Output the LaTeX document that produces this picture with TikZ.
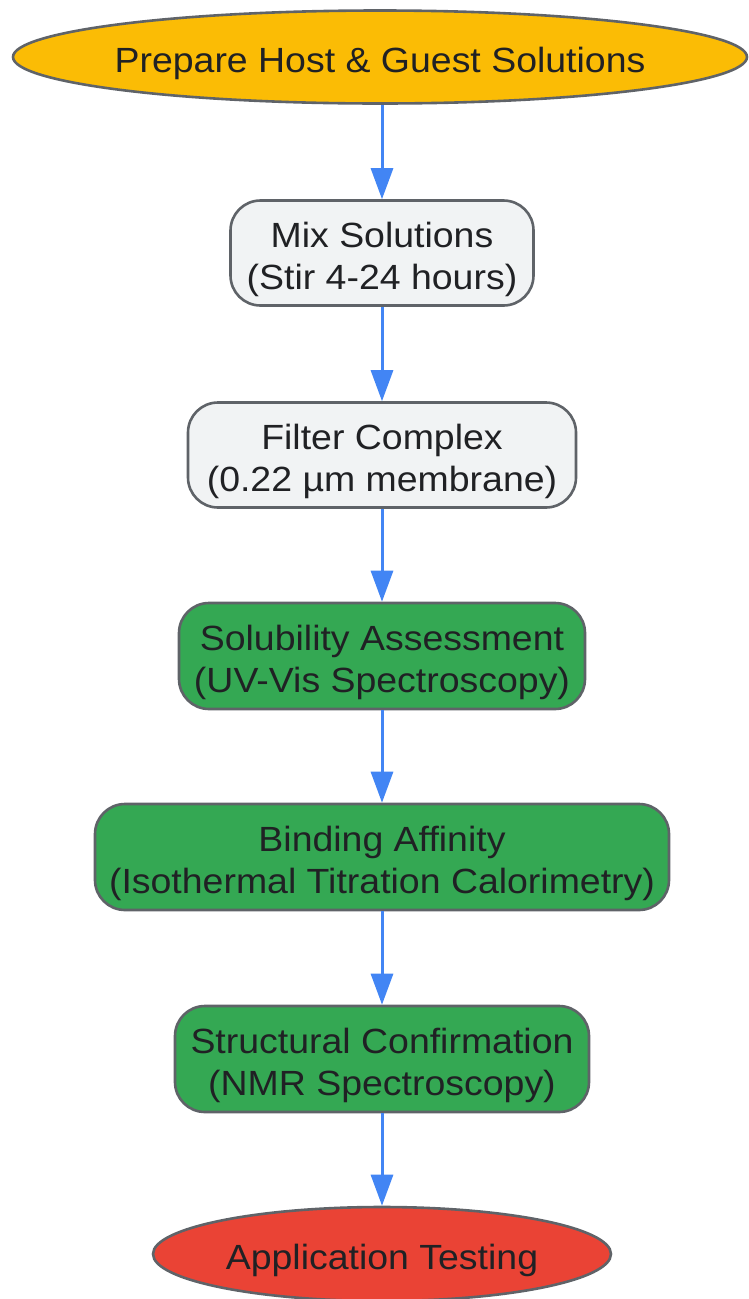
\documentclass[tikz,border=0pt]{standalone}
\usepackage{fontspec}
\setmainfont[FakeStretch=1.07]{Liberation Sans}
\usetikzlibrary{shapes.geometric,arrows.meta}
\definecolor{cyellow}{HTML}{FBBC05}
\definecolor{cgray}{HTML}{F1F3F4}
\definecolor{cgreen}{HTML}{34A853}
\definecolor{cred}{HTML}{EA4335}
\definecolor{cborder}{HTML}{5F6368}
\definecolor{carrow}{HTML}{4285F4}
\definecolor{ctext}{HTML}{202124}
\tikzset{
  base/.style={draw=cborder, line width=2.6pt, inner sep=0pt},
  txt/.style={text=ctext, align=center, inner sep=0pt, yshift=-6pt,
    font=\fontsize{35pt}{42pt}\selectfont},
  oval/.style={base, ellipse},
  rbox/.style={base, rectangle, rounded corners=30pt},
  grayfill/.style={rbox, fill=cgray},
  greenfill/.style={rbox, fill=cgreen},
  flow/.style={draw=carrow, line width=3pt, -{Triangle[length=31pt,width=22pt]}},
}
\begin{document}
\begin{tikzpicture}[x=1pt,y=-1pt]
\useasboundingbox (0,0) rectangle (748,1299);
\node[oval, fill=cyellow, minimum width=734pt, minimum height=93pt,
  label={[txt]center:Prepare Host \& Guest Solutions}] (prep) at (380,57) {};
\node[grayfill, minimum width=303pt, minimum height=105pt,
  label={[txt]center:Mix Solutions\\(Stir 4-24 hours)}] (mix) at (382,253) {};
\node[grayfill, minimum width=388pt, minimum height=105pt,
  label={[txt]center:Filter Complex\\(0.22 µm membrane)}] (filt) at (382,455) {};
\node[greenfill, minimum width=406pt, minimum height=106pt,
  label={[txt]center:Solubility Assessment\\(UV-Vis Spectroscopy)}] (sol) at (382,656) {};
\node[greenfill, minimum width=574pt, minimum height=106pt,
  label={[txt]center:Binding Affinity\\(Isothermal Titration Calorimetry)}] (bind) at (382,857) {};
\node[greenfill, minimum width=414pt, minimum height=106pt,
  label={[txt]center:Structural Confirmation\\(NMR Spectroscopy)}] (struct) at (382,1059) {};
\node[oval, fill=cred, minimum width=458pt, minimum height=94pt,
  label={[txt]center:Application Testing}] (app) at (382,1254) {};
\draw[flow] (prep.south -| mix.north) -- (mix.north);
\draw[flow] (mix) -- (filt);
\draw[flow] (filt) -- (sol);
\draw[flow] (sol) -- (bind);
\draw[flow] (bind) -- (struct);
\draw[flow] (struct) -- (app);
\end{tikzpicture}
\end{document}
